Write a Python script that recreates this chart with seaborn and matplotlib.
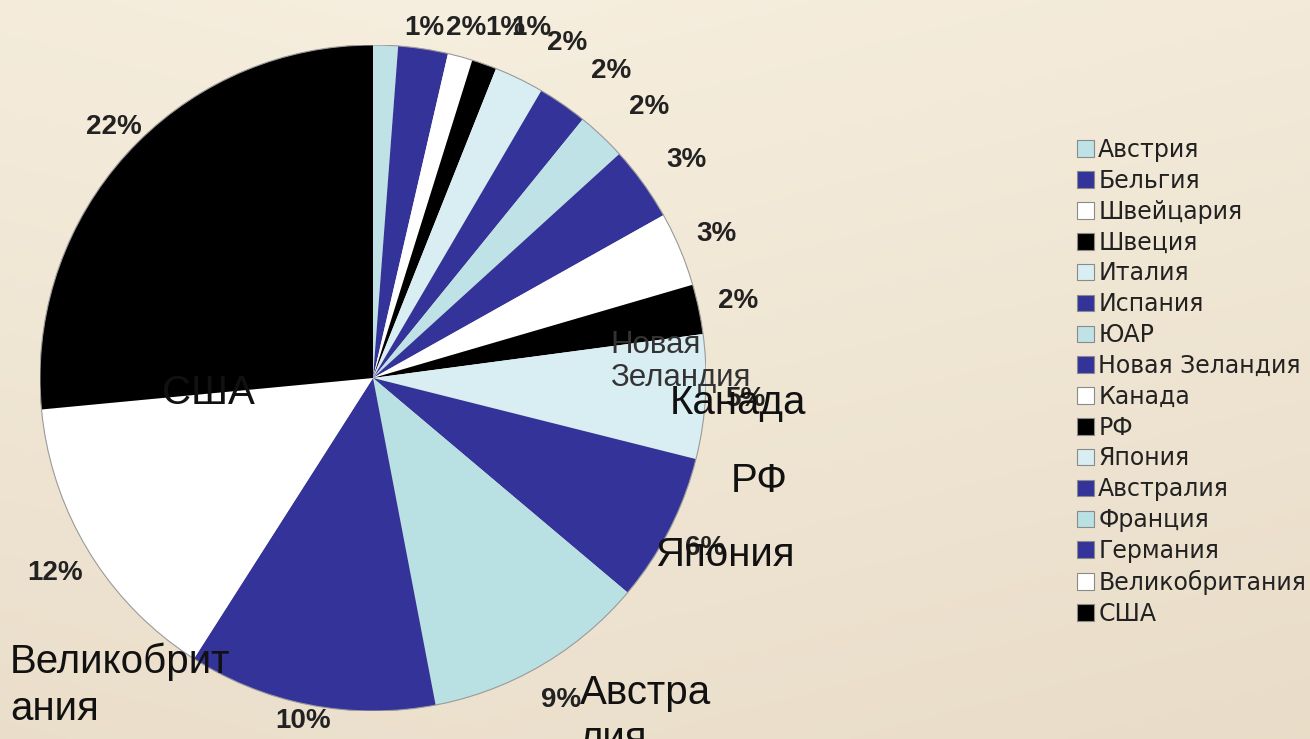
import numpy as np
import matplotlib
matplotlib.use("Agg")
import matplotlib.pyplot as plt
from matplotlib.patches import Patch, Circle
import seaborn as sns

# countries, clockwise from 12 o'clock
countries = ["Австрия", "Бельгия", "Швейцария", "Швеция", "Италия", "Испания",
             "ЮАР", "Новая Зеландия", "Канада", "РФ", "Япония", "Австралия",
             "Франция", "Германия", "Великобритания", "США"]
shares = [1, 2, 1, 1, 2, 2, 2, 3, 3, 2, 5, 6, 9, 10, 12, 22]
colors = ["#bfe2e6", "#333399", "#ffffff", "#000000", "#d9eef2", "#333399",
          "#bfe2e6", "#333399", "#ffffff", "#000000", "#d9eef2", "#333399",
          "#b9e0e3", "#333399", "#ffffff", "#000000"]

sns.set_theme(style="white")
plt.rcParams["font.family"] = ["Liberation Sans", "DejaVu Sans"]

fig = plt.figure(figsize=(13.1, 7.39), dpi=100)

# beige background
bg = fig.add_axes([0, 0, 1, 1], zorder=-10)
yy, xx = np.mgrid[0:1:200j, 0:1:350j]
light = np.array([246, 238, 222]) / 255
dark = np.array([228, 214, 192]) / 255
w = np.clip(0.55 * yy + 0.25 * np.abs(xx - 0.35), 0, 1)[..., None]
bg.imshow(light * (1 - w) + dark * w, aspect="auto", extent=[0, 1, 0, 1])
bg.axis("off")

cx, cy, r = 373, 378, 333
W, H = 1310, 739
ax = fig.add_axes([(cx - r) / W, (H - cy - r) / H, 2 * r / W, 2 * r / H])

wedges, texts = ax.pie(
    shares, colors=colors, startangle=90, counterclock=False,
    labels=[f"{v}%" for v in shares], labeldistance=1.12,
    wedgeprops=dict(linewidth=0),
    textprops=dict(fontsize=20, fontweight="bold", color="#222222"),
)
ax.set_xlim(-1, 1)
ax.set_ylim(-1, 1)
ax.set_aspect("equal")
ax.axis("off")

# keep the labels inside the chart area, like the original
for t in texts:
    t.set_ha("center")
    t.set_va("center")
    x, y = t.get_position()
    if y > 0.45:
        x += 0.1 * (y - 0.45) / 0.6
    y = min(max(y, -1.03), 1.05)
    t.set_position((x, y))
ax.add_patch(Circle((0, 0), 1, fill=False, edgecolor="#9a9a9a", linewidth=0.8))


def pos(px, py):
    return (px - cx) / r, (cy - py) / r


# category labels (as drawn in the original)
big = dict(fontsize=29, color="#111111", va="top", ha="left",
           multialignment="left", linespacing=1.27)
ax.text(*pos(162, 374), "США", **big)
ax.text(*pos(10, 643), "Великобрит\nания", **big)
ax.text(*pos(580, 674), "Австра\nлия", **big)
ax.text(*pos(655, 536), "Япония", **big)
ax.text(*pos(731, 462), "РФ", **big)
ax.text(*pos(670, 384), "Канада", **big)
ax.text(*pos(610, 330), "Новая\nЗеландия", fontsize=22.5, color="#333333",
        va="top", ha="left", linespacing=1.15)

handles = [Patch(facecolor=c, edgecolor="#8a8a8a", linewidth=0.8) for c in colors]
leg = fig.legend(handles, countries, loc="upper left",
                 bbox_to_anchor=(1077 / W, 1 - 138 / H), frameon=False,
                 prop=dict(family="DejaVu Sans", size=17),
                 handlelength=0.7, handleheight=0.7, handletextpad=0.2,
                 labelspacing=0.29, borderpad=0, borderaxespad=0)
for t in leg.get_texts():
    t.set_color("#222222")

fig.savefig("out.png", dpi=100)
